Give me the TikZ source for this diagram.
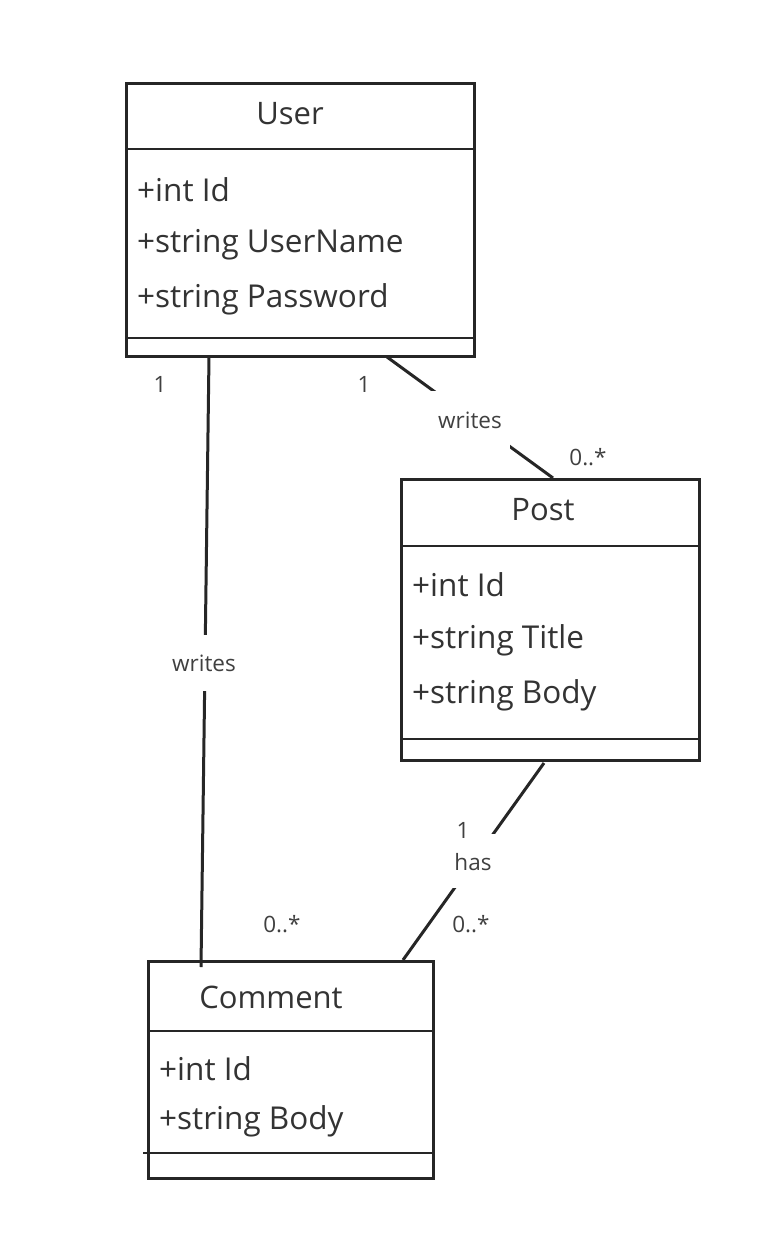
\documentclass[tikz,border=0pt]{standalone}
\usepackage{fontspec}
\setmainfont{Open Sans}
\begin{document}
\begin{tikzpicture}[x=1pt,y=-1pt,
  box/.style={draw=black!85,line width=3pt,rectangle,inner sep=0pt,anchor=north west},
  sep/.style={draw=black!85,line width=2pt},
  conn/.style={draw=black!85,line width=3pt},
  title/.style={font=\fontsize{31}{33}\selectfont,text=black!80,inner sep=0pt},
  attr/.style={font=\fontsize{31.5}{33}\selectfont,text=black!80,inner sep=0pt,anchor=west},
  lbl/.style={font=\fontsize{22.5}{24}\selectfont,text=black!75,inner sep=0pt},
  gap/.style={fill=white,inner sep=0pt}]
\useasboundingbox[fill=white] (0,0) rectangle (774,1260);

% User
\node[box,minimum width=348pt,minimum height=273pt] (user) at (125,82) {};
\draw[sep] (125,149) -- (473,149);
\draw[sep] (125,338) -- (473,338);
\node[title] (userT) at (290,114) {User};
\node[attr] (uA1) at (137,190) {+int Id};
\node[attr] (uA2) at (137,245) {+string UserName};
\node[attr] (uA3) at (137,299) {+string Password};

% Post
\node[box,minimum width=298pt,minimum height=281pt] (post) at (400,478) {};
\draw[sep] (400,546) -- (698,546);
\draw[sep] (400,739) -- (698,739);
\node[title] (postT) at (543,510) {Post};
\node[attr] (pA1) at (412,585) {+int Id};
\node[attr] (pA2) at (412,640) {+string Title};
\node[attr] (pA3) at (412,695) {+string Body};

% Comment
\node[box,minimum width=285pt,minimum height=217pt] (comment) at (147,960) {};
\draw[sep] (147,1031) -- (432,1031);
\draw[sep] (143,1153) -- (432,1153);
\node[title] (commentT) at (271,997) {Comment};
\node[attr] (cA1) at (159,1069) {+int Id};
\node[attr] (cA2) at (159,1121) {+string Body};

% connector ends
\coordinate (uc1) at (209,356);
\coordinate (uc2) at (201,967);
\coordinate (up1) at (387,357);
\coordinate (up2) at (553,478);
\coordinate (pc1) at (544,763);
\coordinate (pc2) at (403,960);

\draw[conn] (uc1) -- (uc2);
\draw[conn] (up1) -- (up2);
\draw[conn] (pc1) -- (pc2);

% association labels
\node[lbl,gap,minimum height=56pt,minimum width=76pt] (w1) at (204,663) {writes};
\node[lbl,gap,minimum height=58pt,minimum width=80pt] (w2) at (470,420) {writes};
\node[lbl,gap,minimum height=54pt,minimum width=60pt] (hasbg) at (471,861) {};
\node[lbl] (has) at (473,862) {has};
\node[lbl] (m5) at (463,830) {1};

% multiplicities
\node[lbl] (m1) at (160,384) {1};
\node[lbl] (m2) at (364,384) {1};
\node[lbl] (m3) at (588,457) {0..*};
\node[lbl] (m4) at (282,924) {0..*};
\node[lbl] (m6) at (471,924) {0..*};
\end{tikzpicture}
\end{document}
